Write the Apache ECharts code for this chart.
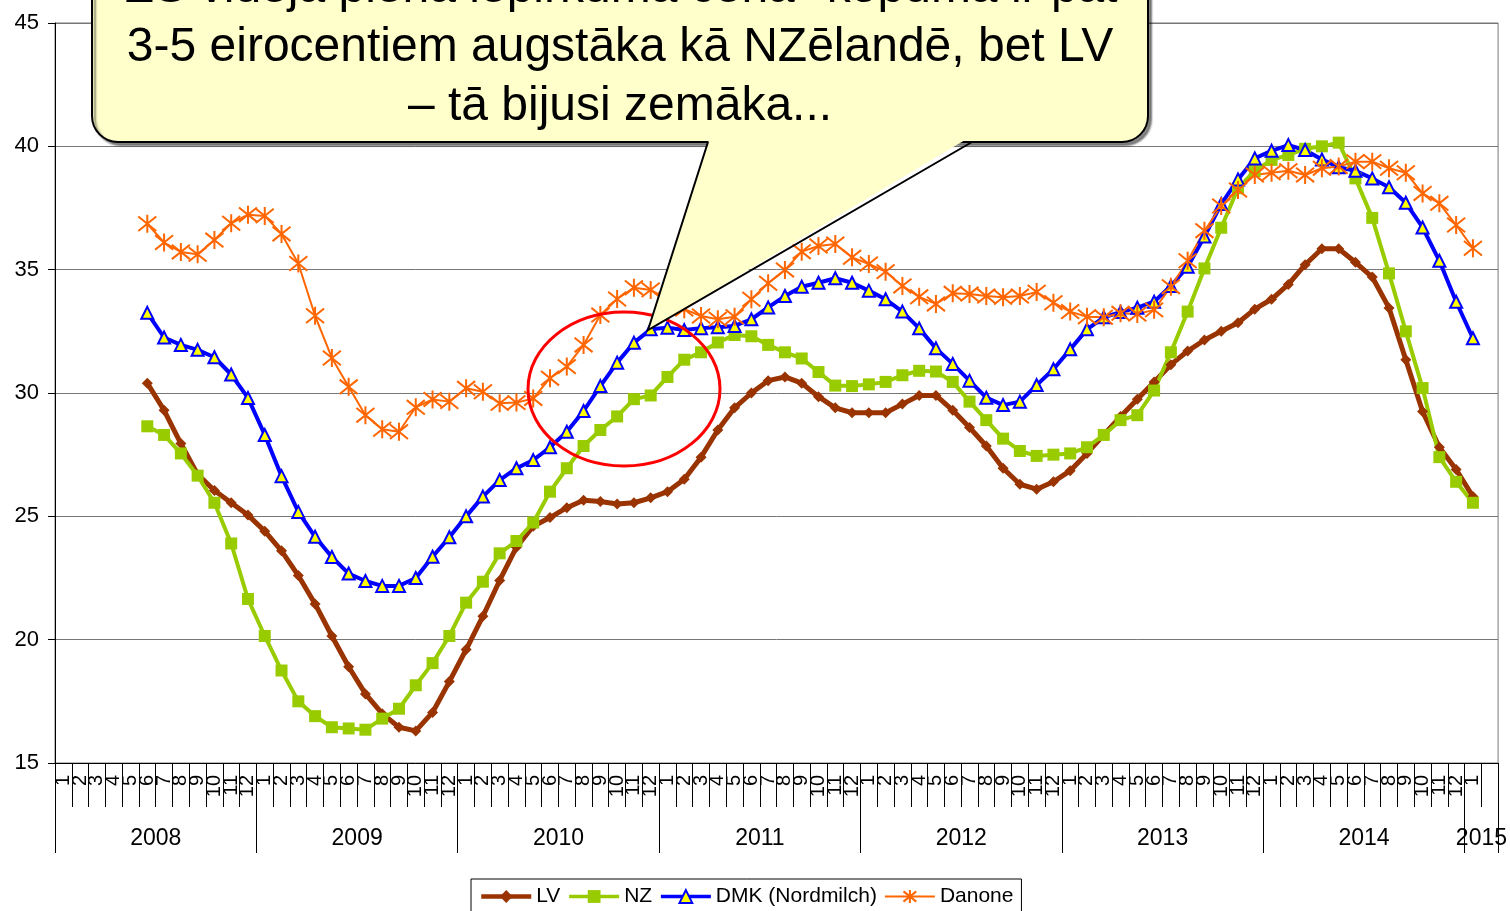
<!DOCTYPE html>
<html>
<head>
<meta charset="utf-8">
<script src="https://cdn.jsdelivr.net/npm/echarts/dist/echarts.min.js"></script>
<style>
  html, body { margin: 0; padding: 0; background: #fff; }
  #chart { width: 1510px; height: 911px; }
</style>
</head>
<body>
<div id="chart"></div>
<script>
// x axis: months 2008-01 .. 2015-02
const years = ['2008', '2009', '2010', '2011', '2012', '2013', '2014', '2015']
const monthNames = ['1', '2', '3', '4', '5', '6', '7', '8', '9', '10', '11', '12']
const firstIndex = 5 // series start in June 2008

// piena iepirkuma cena, EUR centi / kg
const lv = [30.4, 29.3, 27.95, 26.7, 26.05, 25.55, 25.05, 24.4, 23.6, 22.6, 21.45, 20.15, 18.9, 17.8, 17.0, 16.45, 16.3, 17.05, 18.3, 19.6,
  20.95, 22.4, 23.75, 24.6, 24.95, 25.35, 25.65, 25.6, 25.5, 25.55, 25.75, 26.0, 26.5, 27.4, 28.5, 29.4, 30.0, 30.5, 30.65, 30.4,
  29.85, 29.4, 29.2, 29.2, 29.2, 29.55, 29.9, 29.9, 29.3, 28.6, 27.85, 26.95, 26.3, 26.1, 26.4, 26.85, 27.55, 28.3, 29.05, 29.75,
  30.45, 31.15, 31.7, 32.15, 32.5, 32.85, 33.4, 33.8, 34.4, 35.2, 35.85, 35.85, 35.3, 34.7, 33.45, 31.35, 29.25, 27.8, 26.9, 25.8]
const nz = [28.65, 28.3, 27.55, 26.65, 25.55, 23.9, 21.65, 20.15, 18.75, 17.5, 16.9, 16.45, 16.4, 16.35, 16.8, 17.2, 18.15, 19.05, 20.15, 21.5,
  22.35, 23.5, 24.0, 24.75, 26.0, 26.95, 27.85, 28.5, 29.05, 29.75, 29.9, 30.65, 31.35, 31.65, 32.05, 32.35, 32.3, 31.95, 31.65, 31.4,
  30.85, 30.3, 30.28, 30.35, 30.45, 30.72, 30.9, 30.87, 30.45, 29.65, 28.9, 28.15, 27.65, 27.45, 27.5, 27.55, 27.8, 28.3, 28.9, 29.1,
  30.1, 31.65, 33.3, 35.05, 36.7, 38.3, 39.0, 39.45, 39.65, 39.9, 40.0, 40.15, 38.7, 37.1, 34.85, 32.5, 30.2, 27.4, 26.4, 25.55]
const dmk = [33.25, 32.25, 31.95, 31.75, 31.45, 30.75, 29.8, 28.3, 26.63, 25.18, 24.17, 23.35, 22.68, 22.38, 22.18, 22.18, 22.5, 23.36, 24.15, 25.0,
  25.8, 26.47, 26.95, 27.28, 27.8, 28.43, 29.27, 30.28, 31.23, 32.04, 32.58, 32.65, 32.55, 32.63, 32.67, 32.72, 32.99, 33.47, 33.93, 34.31,
  34.47, 34.65, 34.47, 34.15, 33.8, 33.3, 32.62, 31.81, 31.18, 30.5, 29.81, 29.51, 29.65, 30.32, 30.96, 31.77, 32.58, 33.07, 33.28, 33.46,
  33.7, 34.34, 35.12, 36.34, 37.66, 38.66, 39.51, 39.82, 40.05, 39.85, 39.47, 39.15, 39.01, 38.7, 38.34, 37.71, 36.71, 35.36, 33.7, 32.22]
const danone = [36.86, 36.1, 35.72, 35.62, 36.2, 36.88, 37.23, 37.18, 36.45, 35.25, 33.13, 31.42, 30.25, 29.1, 28.53, 28.43, 29.42, 29.74, 29.65, 30.19,
  30.05, 29.58, 29.61, 29.78, 30.6, 31.07, 31.95, 33.16, 33.81, 34.27, 34.18, 33.8, 33.4, 33.12, 32.99, 33.09, 33.8, 34.45, 34.99, 35.73,
  35.96, 36.04, 35.5, 35.23, 34.92, 34.34, 33.9, 33.61, 34.04, 34.01, 33.93, 33.88, 33.93, 34.09, 33.66, 33.3, 33.09, 33.07, 33.23, 33.2,
  33.37, 34.31, 35.36, 36.58, 37.58, 38.23, 38.84, 38.93, 39.01, 38.84, 39.11, 39.18, 39.38, 39.38, 39.11, 38.93, 38.09, 37.69, 36.81, 35.87]

const seriesNames = ['LV', 'NZ', 'DMK (Nordmilch)', 'Danone']
const calloutLines = [
  'ES vidējā piena iepirkuma cena* kopumā ir pat',
  '3-5 eirocentiem augstāka kā NZēlandē, bet LV',
  '– tā bijusi zemāka...'
]

// month categories + year labels
let monthCats = []
let yearCats = []
years.forEach(function (y, yi) {
  const n = y === '2015' ? 2 : 12
  for (let m = 0; m < n; m++) {
    monthCats.push(y === '2015' && m === 1 ? '' : monthNames[m])
    yearCats.push('')
  }
  // year label sits on the band boundary in the middle of the year
  yearCats[yi * 12 + (n === 12 ? 5 : 0)] = y
})

function pad (arr) {
  let out = []
  for (let i = 0; i < monthCats.length; i++) {
    const v = arr[i - firstIndex]
    out.push(v === undefined ? null : v)
  }
  return out
}

const FONT = "'Liberation Sans', Arial, sans-serif"
const starIcon = 'path://M10,0 L10,20 M2,2 L18,18 M2,18 L18,2'

const chart = echarts.init(document.getElementById('chart'), null, { renderer: 'canvas' })

let option = {
  animation: false,
  backgroundColor: '#fff',
  textStyle: { fontFamily: FONT },
  grid: {
    left: 55,
    right: 11,
    top: 23,
    bottom: 148,
    show: true,
    borderColor: '#777',
    borderWidth: 1
  },
  legend: {
    data: [
      { name: seriesNames[0], lineStyle: { width: 4.5 } },
      { name: seriesNames[1], lineStyle: { width: 3.5 } },
      { name: seriesNames[2], lineStyle: { width: 3.5 } },
      { name: seriesNames[3], lineStyle: { width: 2 } }
    ],
    left: 471,
    top: 879,
    padding: [7, 8, 12, 8],
    borderColor: '#000',
    borderWidth: 1,
    itemWidth: 50,
    itemHeight: 16,
    itemGap: 7,
    textStyle: { fontSize: 21, color: '#000', fontFamily: FONT }
  },
  xAxis: [
    {
      type: 'category',
      position: 'bottom',
      data: monthCats,
      boundaryGap: true,
      axisLine: { show: true, lineStyle: { color: '#000', width: 1 } },
      axisTick: { show: true, interval: 0, length: 44, lineStyle: { color: '#000', width: 1 } },
      axisLabel: {
        show: true,
        interval: 0,
        rotate: 90,
        margin: 12,
        fontSize: 20,
        color: '#000',
        fontFamily: FONT
      },
      splitLine: { show: false }
    },
    {
      type: 'category',
      position: 'bottom',
      data: yearCats,
      boundaryGap: true,
      axisLine: { show: false },
      axisTick: {
        show: true,
        length: 90,
        lineStyle: { color: '#000', width: 1 },
        interval: function (idx) { return idx % 12 === 0 }
      },
      axisLabel: {
        show: true,
        interval: 0,
        margin: 64,
        fontSize: 23,
        color: '#000',
        fontFamily: FONT,
        padding: [0, 0, 0, 17]
      },
      splitLine: { show: false }
    }
  ],
  yAxis: {
    type: 'value',
    min: 15,
    max: 45,
    interval: 5,
    axisLine: { show: true, lineStyle: { color: '#000' } },
    axisTick: { show: true, length: 7, lineStyle: { color: '#000' } },
    axisLabel: { fontSize: 22, color: '#000', margin: 16, fontFamily: FONT },
    splitLine: { lineStyle: { color: '#777', width: 1 } }
  },
  series: [
    {
      name: seriesNames[0],
      type: 'line',
      data: pad(lv),
      symbol: 'diamond',
      symbolSize: 11,
      lineStyle: { color: '#993300', width: 5 },
      itemStyle: { color: '#993300' }
    },
    {
      name: seriesNames[1],
      type: 'line',
      data: pad(nz),
      symbol: 'rect',
      symbolSize: 12,
      lineStyle: { color: '#99CC00', width: 4 },
      itemStyle: { color: '#99CC00' }
    },
    {
      name: seriesNames[2],
      type: 'line',
      data: pad(dmk),
      symbol: 'triangle',
      symbolSize: 12,
      lineStyle: { color: '#0000FF', width: 4 },
      itemStyle: { color: '#FFFF00', borderColor: '#0000FF', borderWidth: 2 }
    },
    {
      name: seriesNames[3],
      type: 'line',
      data: pad(danone),
      symbol: starIcon,
      symbolSize: 18,
      lineStyle: { color: '#FF6600', width: 2 },
      itemStyle: { color: '#FF6600', borderColor: '#FF6600', borderWidth: 2 }
    }
  ],
  graphic: [
    {
      type: 'ellipse',
      z: 90,
      shape: { cx: 624, cy: 389, rx: 96, ry: 77 },
      style: { fill: 'none', stroke: '#FF0000', lineWidth: 3 }
    },
    {
      type: 'rect',
      z: 100,
      shape: { x: 92, y: -80, width: 1056, height: 222, r: 26 },
      style: {
        fill: '#FFFFCC', stroke: '#000', lineWidth: 2,
        shadowColor: 'rgba(0,0,0,0.45)', shadowOffsetX: 3, shadowOffsetY: 3, shadowBlur: 2
      }
    },
    {
      type: 'polygon',
      z: 101,
      shape: { points: [[710, 137], [648, 330], [970, 137]] },
      style: { fill: '#FFFFCC', stroke: 'none' }
    },
    {
      type: 'polyline',
      z: 102,
      shape: { points: [[708, 142], [648, 330], [972, 142]] },
      style: { fill: 'none', stroke: '#000', lineWidth: 2 }
    },
    {
      type: 'text',
      z: 103,
      style: {
        text: calloutLines.join('\n'),
        x: 620,
        y: 48,
        align: 'center',
        verticalAlign: 'middle',
        lineHeight: 59,
        font: '48px ' + FONT,
        fill: '#000'
      }
    }
  ]
}

option && chart.setOption(option)
</script>
</body>
</html>
